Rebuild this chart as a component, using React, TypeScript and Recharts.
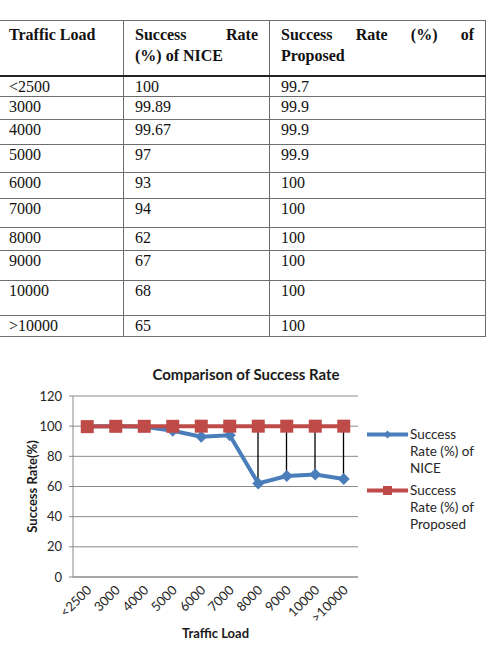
import React from 'react';
import { ComposedChart, Line, Bar, XAxis, YAxis, CartesianGrid } from 'recharts';

const trafficLoads = ['<2500', '3000', '4000', '5000', '6000', '7000', '8000', '9000', '10000', '>10000'];
const niceRates = [100, 99.89, 99.67, 97, 93, 94, 62, 67, 68, 65];
const proposedRates = [99.7, 99.9, 99.9, 99.9, 100, 100, 100, 100, 100, 100];
const yTicks = [0, 20, 40, 60, 80, 100, 120];

const NICE_NAME = 'Success Rate (%) of NICE';
const PROPOSED_NAME = 'Success Rate (%) of Proposed';

// table row heights as scanned (uneven in the original)
const ROW_H = [21, 23, 25, 28, 26, 29, 23, 30, 35, 21];

const C = {
  blue: '#4A7EBB',
  red: '#BE4B48',
  grid: '#8A8A8A',
  text: '#262626',
  border: '#6E6E6E',
} as const;

const FONT = 'Lato, "Open Sans", sans-serif';
const SERIF = '"Liberation Serif", "Times New Roman", serif';

const data = trafficLoads.map((load, i) => ({
  load,
  nice: niceRates[i],
  proposed: proposedRates[i],
  range: [niceRates[i], proposedRates[i]],
}));

const cell: React.CSSProperties = {
  border: `1px solid ${C.border}`,
  padding: '1px 11px 0 11px',
  verticalAlign: 'top',
  textAlign: 'left',
  fontFamily: SERIF,
  fontSize: 16,
  lineHeight: '18px',
  color: '#111',
};

function Justified({ words }: { words: string[] }) {
  return (
    <div style={{ display: 'flex', justifyContent: 'space-between' }}>
      {words.map(w => <span key={w}>{w}</span>)}
    </div>
  );
}

function DataTable() {
  const head: React.CSSProperties = { ...cell, fontWeight: 'bold', lineHeight: '21px', paddingTop: 3, borderBottom: '2px solid #222' };
  return (
    <table style={{ position: 'absolute', top: 20, left: -3, width: 488, borderCollapse: 'collapse', tableLayout: 'fixed' }}>
      <colgroup>
        <col style={{ width: 126 }} />
        <col style={{ width: 146 }} />
        <col style={{ width: 216 }} />
      </colgroup>
      <tbody>
        <tr style={{ height: 55 }}>
          <td style={head}>Traffic Load</td>
          <td style={head}><Justified words={['Success', 'Rate']} />(%) of NICE</td>
          <td style={head}><Justified words={['Success', 'Rate', '(%)', 'of']} />Proposed</td>
        </tr>
        {trafficLoads.map((load, i) => (
          <tr key={load} style={{ height: ROW_H[i] }}>
            <td style={cell}>{load}</td>
            <td style={cell}>{niceRates[i]}</td>
            <td style={cell}>{proposedRates[i]}</td>
          </tr>
        ))}
      </tbody>
    </table>
  );
}

const Diamond = (p: any) => {
  const { cx, cy, index } = p;
  const r = 6;
  return <path key={`d${index}`} d={`M${cx},${cy - r}L${cx + r},${cy}L${cx},${cy + r}L${cx - r},${cy}Z`} fill={C.blue} />;
};

const Square = (p: any) => {
  const { cx, cy, index } = p;
  return <rect key={`s${index}`} x={cx - 6.5} y={cy - 6.5} width={13} height={13} fill={C.red} />;
};

// high-low line between the two series
const HighLow = (p: any) => {
  const { x, y, width, height } = p;
  const cx = x + width / 2;
  const top = Math.min(y, y + height);
  const bot = Math.max(y, y + height);
  return <line x1={cx} x2={cx} y1={top} y2={bot} stroke="#000" strokeWidth={1.3} />;
};

const XTick = (p: any) => {
  const { x, y, payload } = p;
  const ax = x + 5;
  const ay = y + 14;
  return (
    <text x={ax} y={ay} transform={`rotate(-45 ${ax} ${ay})`} textAnchor="end" fontSize={13} fill={C.text} fontFamily={FONT}>
      {payload.value}
    </text>
  );
};

function LegendBox() {
  const items = [
    { name: NICE_NAME, color: C.blue, marker: 'diamond' },
    { name: PROPOSED_NAME, color: C.red, marker: 'square' },
  ];
  return (
    <div style={{ position: 'absolute', top: 426, left: 367, fontFamily: FONT, fontSize: 13.5, color: C.text, lineHeight: '17px' }}>
      {items.map(it => (
        <div key={it.name} style={{ display: 'flex', alignItems: 'flex-start', marginBottom: 5 }}>
          <svg width={43} height={17} style={{ flex: 'none' }}>
            <line x1={0} x2={41} y1={8.5} y2={8.5} stroke={it.color} strokeWidth={4} />
            {it.marker === 'diamond'
              ? <path d="M20.5,4.5L24.5,8.5L20.5,12.5L16.5,8.5Z" fill={it.color} />
              : <rect x={16} y={4} width={9} height={9} fill={it.color} />}
          </svg>
          <div style={{ width: 74 }}>{it.name}</div>
        </div>
      ))}
    </div>
  );
}

export default function App() {
  return (
    <div style={{ position: 'absolute', left: 0, top: 0, width: 487, height: 653, background: '#fff', overflow: 'hidden' }}>
      <DataTable />
      <div style={{ position: 'absolute', top: 365, left: 0, width: 492, textAlign: 'center', fontFamily: FONT, fontWeight: 'bold', fontSize: 15, color: '#1a1a1a' }}>
        Comparison of Success Rate
      </div>
      <div style={{ position: 'absolute', top: 340, left: 0 }}>
        <ComposedChart width={487} height={313} data={data} margin={{ top: 56, right: 129, bottom: 0, left: 0 }}>
          <CartesianGrid vertical={false} stroke={C.grid} strokeWidth={1} />
          <XAxis
            dataKey="load"
            height={76}
            stroke={C.grid}
            tickLine={false}
            tickSize={0}
            tickMargin={0}
            interval={0}
            tick={<XTick />}
            label={{ value: 'Traffic Load', position: 'insideBottom', offset: 15, fontSize: 13, fontWeight: 'bold', fill: '#1a1a1a', fontFamily: FONT }}
          />
          <YAxis
            width={73}
            domain={[0, 120]}
            ticks={yTicks}
            stroke={C.grid}
            tickSize={4}
            tickMargin={7}
            tick={{ fontSize: 13, fill: C.text, fontFamily: FONT }}
            label={{ value: 'Success Rate(%)', angle: -90, position: 'insideLeft', offset: 32, fontSize: 13, fontWeight: 'bold', fill: '#1a1a1a', fontFamily: FONT, style: { textAnchor: 'middle' } }}
          />
          <Bar dataKey="range" barSize={4} shape={<HighLow />} isAnimationActive={false} legendType="none" />
          <Line dataKey="nice" name={NICE_NAME} stroke={C.blue} strokeWidth={4} dot={Diamond} activeDot={false} isAnimationActive={false} />
          <Line dataKey="proposed" name={PROPOSED_NAME} stroke={C.red} strokeWidth={4} dot={Square} activeDot={false} isAnimationActive={false} />
        </ComposedChart>
      </div>
      <LegendBox />
    </div>
  );
}
